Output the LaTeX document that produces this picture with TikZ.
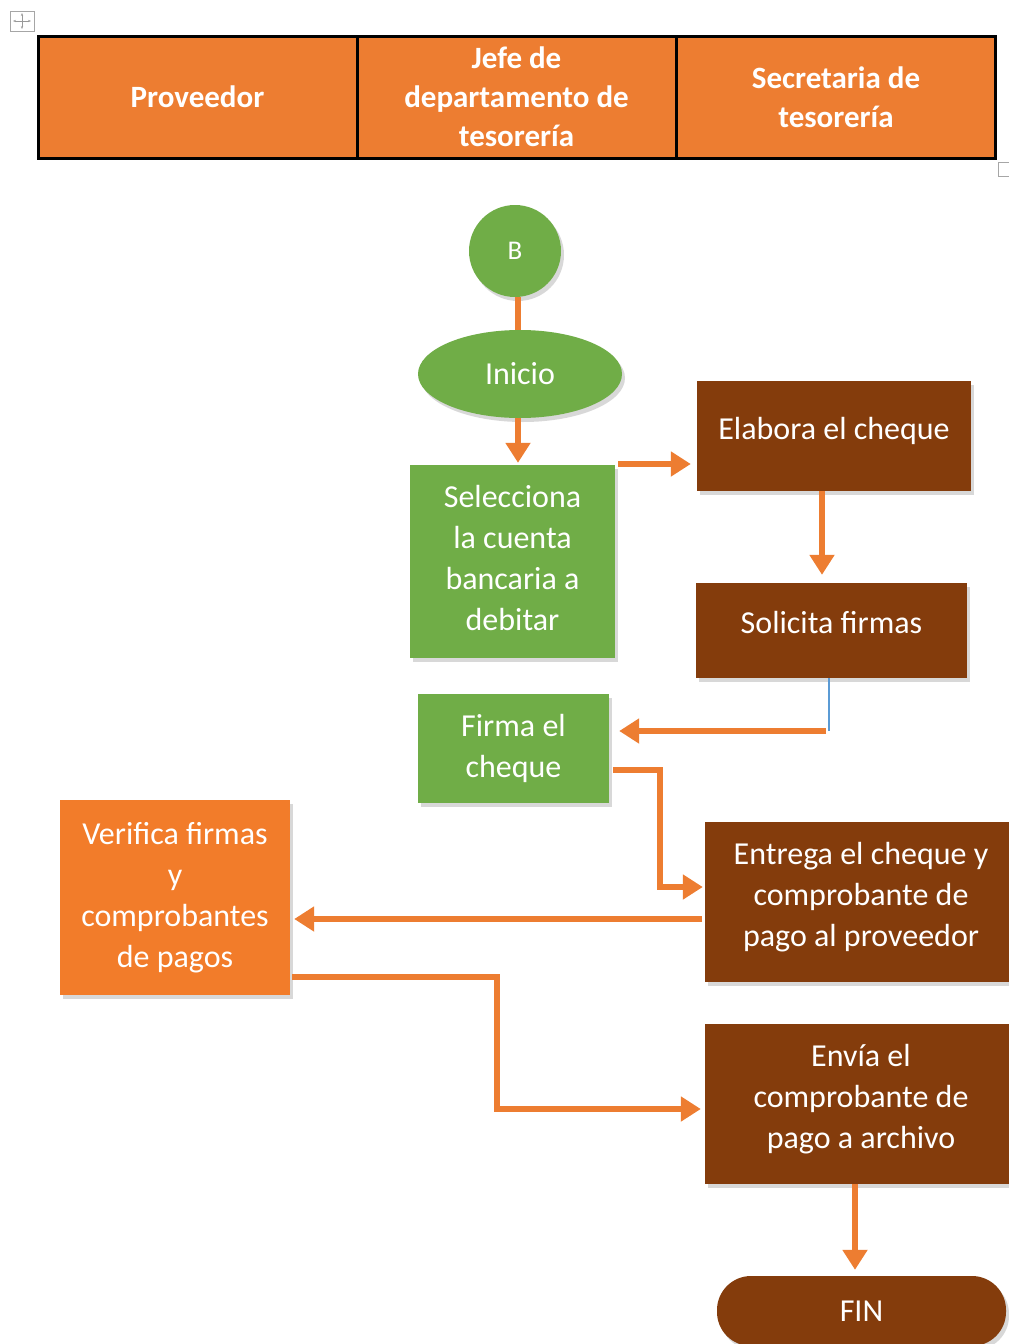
\documentclass[tikz,border=0pt]{standalone}
\usepackage{fontspec}
\setmainfont{Carlito}
\usetikzlibrary{arrows.meta,shapes.geometric,shadows}

\definecolor{hdrorange}{HTML}{ED7D31}
\definecolor{stepgreen}{HTML}{70AD47}
\definecolor{stepbrown}{HTML}{843C0C}
\definecolor{steporange}{HTML}{F27C2A}
\definecolor{flow}{HTML}{ED7D31}
\definecolor{linkblue}{HTML}{5B9BD5}

\tikzset{
  txt/.style={text=white, align=center, font=\fontsize{32}{41}\selectfont},
  hdrcell/.style={fill=hdrorange, draw=black, line width=3pt, text=white,
    align=center, font=\bfseries\fontsize{31}{39}\selectfont,
    minimum width=319pt, minimum height=122pt, inner sep=0pt},
  shade/.style={drop shadow={shadow xshift=3pt, shadow yshift=-4pt, opacity=0.3}},
  greenbox/.style={txt, fill=stepgreen, shade, inner sep=0pt},
  brownbox/.style={txt, fill=stepbrown, shade, inner sep=0pt},
  orangebox/.style={txt, fill=steporange, shade, inner sep=0pt},
  conn/.style={draw=flow, line width=6pt},
  arr/.style={conn, -{Triangle[width=24pt,length=20pt]}},
}

\begin{document}
\begin{tikzpicture}[x=1pt,y=-1pt]
\clip (0,0) rectangle (1009,1344);
\fill[white] (0,0) rectangle (1009,1344);

% table move handle
\node[draw=gray!70, line width=0.8pt, minimum width=24pt, minimum height=20pt,
      inner sep=0pt] (handle) at (22,21) {};
\draw[gray!80, line width=0.9pt, {Stealth[length=3pt]}-{Stealth[length=3pt]}]
  ([xshift=-9]handle.center) -- ([xshift=9]handle.center);
\draw[gray!80, line width=0.9pt, {Stealth[length=3pt]}-{Stealth[length=3pt]}]
  ([yshift=8]handle.center) -- ([yshift=-8]handle.center);

% header row
\node[hdrcell] (hdr1) at (197.5,97) {Proveedor};
\node[hdrcell] (hdr2) at (516.5,97) {Jefe de\\departamento de\\tesorería};
\node[hdrcell] (hdr3) at (836,97) {Secretaria de\\tesorería};

% table resize handle
\node[draw=gray!70, line width=0.8pt, minimum width=14pt, minimum height=14pt,
      inner sep=0pt] (resize) at (1005,169) {};

% flow steps (multi-line texts sit a little above their box centre)
\node[greenbox, circle, minimum size=92pt, font=\fontsize{27}{41}\selectfont] (B) at (515,251) {B};
\node[greenbox, ellipse, minimum width=204pt, minimum height=88pt] (inicio) at (520,374) {Inicio};
\node[greenbox, minimum width=205pt, minimum height=193pt,
      label={[txt, yshift=4pt]center:{Selecciona\\la cuenta\\bancaria a\\debitar}}]
      (sel) at (512.5,561.5) {};
\node[brownbox, minimum width=274pt, minimum height=110pt] (elab) at (834,436)
  {\raisebox{16pt}{Elabora el cheque}};
\node[brownbox, minimum width=271pt, minimum height=95pt] (sol) at (831.5,630.5)
  {\raisebox{16pt}{Solicita firmas}};
\node[greenbox, minimum width=191pt, minimum height=109pt] (firma) at (513.5,748.5)
  {Firma el\\cheque};
\node[orangebox, minimum width=230pt, minimum height=195pt] (verif) at (175,897.5)
  {Verifica firmas\\y\\comprobantes\\de pagos};
\node[brownbox, minimum width=312pt, minimum height=160pt,
      label={[txt, yshift=5pt]center:{Entrega el cheque y\\comprobante de\\pago al proveedor}}]
      (entrega) at (861,902) {};
\node[brownbox, minimum width=312pt, minimum height=160pt,
      label={[txt, yshift=5pt]center:{Envía el\\comprobante de\\pago a archivo}}]
      (envia) at (861,1104) {};
\node[brownbox, rounded corners=34pt, minimum width=289pt, minimum height=70pt] (fin) at (861.5,1311)
  {FIN};

% helper points for the elbow connectors
\coordinate (c0) at (518,300);
\coordinate (c1) at (614,464);
\coordinate (c2) at (829,731);
\coordinate (c3) at (660,770);
\coordinate (c4) at (660,887);
\coordinate (c5) at (702,919);
\coordinate (c6) at (497,977);
\coordinate (c7) at (497,1109);

% connectors
\draw[conn] (B.south -| c0) -- (inicio.north -| c0);
\draw[arr, shorten >=2pt] (inicio.south -| c0) -- (sel.north -| c0);
\draw[arr] ([xshift=4]c1) -- ([xshift=-6]elab.west |- c1);
\draw[arr, shorten >=8pt] ([xshift=-12]elab.south) -- ([xshift=-12]elab.south |- sol.north);
\draw[linkblue, line width=1.5pt] (sol.south -| c2) -- (c2);
\draw[arr, shorten >=10pt] ([xshift=-3]c2) -- (firma.east |- c2);
\draw[arr, shorten >=2pt] ([xshift=4]firma.east |- c3) -- (c3) -- (c4) -- (entrega.west |- c4);
\draw[arr, shorten >=4pt] (c5) -- (verif.east |- c5);
\draw[arr, shorten >=4pt] ([xshift=2]verif.east |- c6) -- (c6) -- (c7) -- (envia.west |- c7);
\draw[arr, shorten >=6pt] ([xshift=-6]envia.south) -- ([xshift=-6]envia.south |- fin.north);
\end{tikzpicture}
\end{document}
